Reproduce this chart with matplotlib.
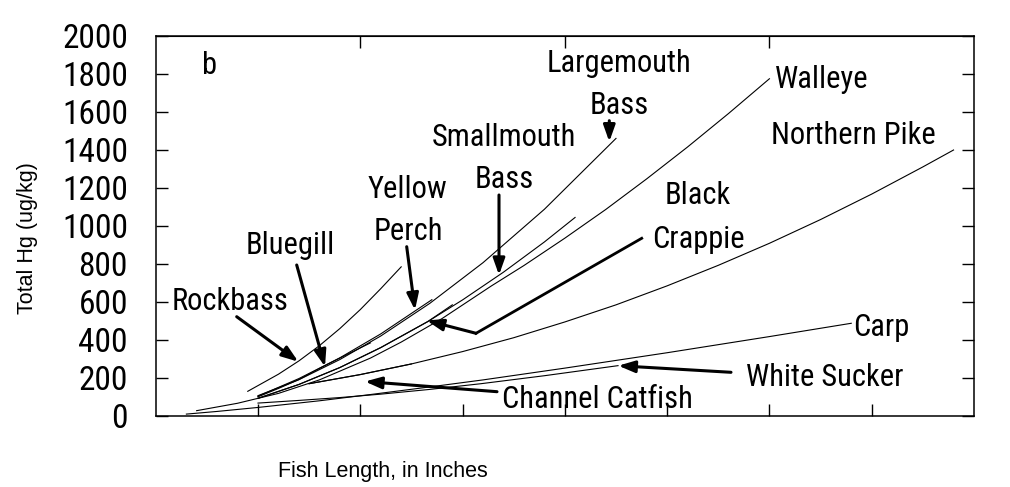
import matplotlib
matplotlib.use('Agg')
import matplotlib.pyplot as plt
from matplotlib import font_manager

# fish length (inches) and total Hg (ug/kg)
rockbass_len = [4.5, 6, 7, 8, 9, 10, 11, 12]
rockbass_hg = [130, 220, 290, 370, 460, 560, 670, 785]

bluegill_len = [5, 6, 7, 8, 9, 10.5]
bluegill_hg = [101, 145, 192, 250, 305, 385]

perch_len = [5, 7, 9, 11, 13.5]
perch_hg = [104, 197, 306, 432, 612]

smallmouth_len = [5, 7, 9, 11, 13.3, 15, 17, 19, 20.5]
smallmouth_hg = [93, 166, 255, 360, 497, 611, 757, 916, 1045]

largemouth_len = [5, 7, 9, 11, 13.4, 16, 19, 22.5]
largemouth_hg = [107, 191, 297, 421, 593, 807, 1088, 1461]

crappie_len = [5, 7, 9, 11, 13.3, 14.5]
crappie_hg = [93, 166, 255, 360, 497, 585]

walleye_len = [2, 4, 6, 8, 10.5, 12, 14, 16.4, 18, 20, 22, 24, 26, 28, 30]
walleye_hg = [28, 67, 119, 190, 305, 389, 513, 684, 792, 936, 1087, 1248,
              1416, 1592, 1775]

pike_len = [7.5, 10, 12.5, 15, 17.5, 20, 22.5, 25, 27.5, 30, 32.5, 35, 37.5, 39]
pike_hg = [170, 218, 274, 339, 412, 495, 585, 685, 793, 909, 1034, 1168,
           1311, 1400]

catfish_len = [7.5, 10, 12.5]
catfish_hg = [170, 218, 274]

carp_len = [1.5, 3, 5, 8, 10.5, 13.4, 16, 20, 25, 30, 34]
carp_hg = [10, 24, 45, 80, 113, 153, 190, 252, 333, 418, 488]

sucker_len = [5, 7, 9, 11, 13.4, 15.9, 19, 22.6]
sucker_hg = [68, 82, 97, 115, 140, 170, 212, 265]

series = [
    (rockbass_len, rockbass_hg), (bluegill_len, bluegill_hg),
    (perch_len, perch_hg), (smallmouth_len, smallmouth_hg),
    (largemouth_len, largemouth_hg), (crappie_len, crappie_hg),
    (walleye_len, walleye_hg), (pike_len, pike_hg),
    (catfish_len, catfish_hg), (carp_len, carp_hg),
    (sucker_len, sucker_hg),
]

W, H = 1010, 487

have = {f.name for f in font_manager.fontManager.ttflist}
narrow = next((n for n in ['Roboto Condensed', 'Archivo Narrow', 'PT Sans Narrow',
                           'Liberation Sans Narrow', 'Encode Sans Condensed']
               if n in have), 'DejaVu Sans')
arial = next((n for n in ['Liberation Sans', 'Arimo'] if n in have), 'DejaVu Sans')
plt.rcParams['font.family'] = [narrow, 'DejaVu Sans']

fig = plt.figure(figsize=(W / 100, H / 100), dpi=100)
ax = fig.add_axes([155.7 / W, 1 - 416 / H, (974 - 155.7) / W, 380 / H])

for xs, ys in series:
    ax.plot(xs, ys, color='black', lw=0.8)

ax.set_xlim(0, 40)
ax.set_ylim(0, 2000)
ax.set_xticks([5, 10, 15, 20, 25, 30, 35])
ax.set_xticklabels([])
ax.set_yticks(range(0, 2001, 200))
ax.tick_params(axis='x', direction='in', length=8.5, width=1, top=False)
ax.tick_params(axis='y', direction='in', length=8.5, width=1, right=True,
               labelsize=24, pad=20)
for s in ax.spines.values():
    s.set_linewidth(1.1)

top = ax.secondary_xaxis('top')
top.set_xticks([10, 20, 30])
top.tick_params(direction='in', length=8.5, width=1, labeltop=False)


def fp(x, y):
    # reference pixel position -> figure pixels
    return (x, H - y)


labels = [
    ('b', 210, 66), ('Rockbass', 230, 301), ('Bluegill', 290, 246),
    ('Yellow', 407, 190), ('Perch', 408, 231),
    ('Smallmouth', 504, 137), ('Bass', 504, 180),
    ('Largemouth', 619, 63), ('Bass', 619, 105),
    ('Walleye', 822, 80), ('Northern Pike', 853, 135),
    ('Black', 698, 195), ('Crappie', 698, 239),
    ('Carp', 881, 327), ('White Sucker', 825, 377),
    ('Channel Catfish', 597, 400),
]
for txt, x, y in labels:
    fig.text(x / W, 1 - y / H, txt, fontsize=22, ha='center', va='center')

arrows = [
    ((236.7, 316.7), (298.3, 361.7)),
    ((296.7, 265), (325, 366.7)),
    ((406.7, 246.7), (415, 310)),
    ((499, 195), (499, 275)),
    ((609.3, 120.7), (609.3, 141.7)),
    ((476, 333.3), (426.7, 320.5)),
    ((731, 372.3), (618.3, 365.7)),
    ((497, 391.7), (365, 381.5)),
]
for (x0, y0), (x1, y1) in arrows:
    ax.annotate('', xy=fp(x1, y1), xycoords='figure pixels',
                xytext=fp(x0, y0), textcoords='figure pixels',
                arrowprops=dict(arrowstyle='-|>,head_length=0.7,head_width=0.25',
                                lw=2.2, color='black', shrinkA=0, shrinkB=0,
                                mutation_scale=14))
# bent leader for Black Crappie
fig.add_artist(plt.Line2D([641.7 / W, 476 / W], [1 - 238.3 / H, 1 - 333.3 / H],
                          color='black', lw=2.0))

fig.text(28 / W, 1 - 238 / H, 'Total Hg (ug/kg)', rotation=90, fontsize=15.5,
         family=[arial, 'DejaVu Sans'], ha='center', va='center')
fig.text(383 / W, 1 - 471 / H, 'Fish Length, in Inches', fontsize=15.5,
         family=[arial, 'DejaVu Sans'], ha='center', va='center')

fig.savefig('out.png', dpi=100)
